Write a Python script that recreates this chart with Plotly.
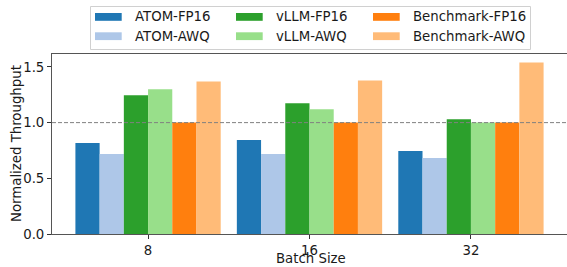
import plotly.graph_objects as go

batch_sizes = ["8", "16", "32"]
series_names = ["ATOM-FP16", "ATOM-AWQ", "vLLM-FP16", "vLLM-AWQ", "Benchmark-FP16", "Benchmark-AWQ"]
atom_fp16 = [0.817, 0.844, 0.745]
atom_awq = [0.719, 0.719, 0.683]
vllm_fp16 = [1.246, 1.174, 1.031]
vllm_awq = [1.299, 1.120, 1.000]
bench_fp16 = [1.0, 1.0, 1.0]
bench_awq = [1.370, 1.379, 1.540]
series_values = [atom_fp16, atom_awq, vllm_fp16, vllm_awq, bench_fp16, bench_awq]
colors = ["#1f77b4", "#aec7e8", "#2ca02c", "#98df8a", "#ff7f0e", "#ffbb78"]
baseline_value = 1.0
x_title = "Batch Size"
y_title = "Normalized Throughput"

FONT = "DejaVu Sans"
FS = 13.3
TXT = "#1a1a1a"
W, H = 567, 267
ML, MR, MT, MB = 52, 0, 54, 33
PW, PH = W - ML - MR, H - MT - MB


def px(xp):
    return (xp - ML) / PW


def py(yp):
    return (H - MB - yp) / PH


fig = go.Figure()
x_idx = list(range(len(batch_sizes)))
for name, vals, c in zip(series_names, series_values, colors):
    fig.add_trace(go.Bar(x=x_idx, y=vals, name=name, showlegend=False,
                         marker=dict(color=c, line=dict(width=0))))

shapes = []
annotations = []
# dashed reference line
shapes.append(dict(type="line", xref="paper", yref="y", x0=0, x1=1, y0=baseline_value, y1=baseline_value,
                   line=dict(color="#808080", width=1, dash="4px,2px"), layer="above"))

# legend (drawn manually: 3 columns x 2 rows)
bx0, bx1, by0, by1 = 90.5, 530.5, 6.5, 49.5
shapes.append(dict(type="rect", xref="paper", yref="paper",
                   x0=px(bx0), x1=px(bx1), y0=py(by1), y1=py(by0),
                   line=dict(color="#d0d0d0", width=1), fillcolor="white", layer="below"))
col_x = [95, 236, 373]
row_y = [16.9, 36.2]
for i, (name, c) in enumerate(zip(series_names, colors)):
    col, row = i // 2, i % 2
    sx, sy = col_x[col], row_y[row]
    shapes.append(dict(type="rect", xref="paper", yref="paper",
                       x0=px(sx), x1=px(sx + 26.7), y0=py(sy + 3.9), y1=py(sy - 3.9),
                       fillcolor=c, line=dict(width=0), layer="above"))
    annotations.append(dict(x=px(sx + 38), y=py(sy), xref="paper", yref="paper", text=name,
                            showarrow=False, xanchor="left", yanchor="middle",
                            font=dict(family=FONT, size=FS, color=TXT)))

# axis titles
annotations.append(dict(x=px(311), y=py(H), xref="paper", yref="paper", text=x_title,
                        showarrow=False, xanchor="center", yanchor="bottom", borderpad=0,
                        font=dict(family=FONT, size=FS, color=TXT)))
annotations.append(dict(x=px(16), y=py(144), xref="paper", yref="paper", text=y_title,
                        showarrow=False, xanchor="center", yanchor="middle", textangle=-90,
                        font=dict(family=FONT, size=FS, color=TXT)))

fig.update_layout(
    width=W, height=H,
    margin=dict(l=ML, r=MR, t=MT, b=MB, autoexpand=False),
    paper_bgcolor="white", plot_bgcolor="white",
    font=dict(family=FONT, size=FS, color=TXT),
    barmode="group", bargap=0.1, bargroupgap=0,
    showlegend=False,
    shapes=shapes, annotations=annotations,
    xaxis=dict(range=[-0.595, 2.595], tickmode="array", tickvals=x_idx, ticktext=batch_sizes,
               showline=True, linecolor="#555555", linewidth=1, mirror=True,
               ticks="outside", ticklen=4, tickcolor="#333", showgrid=False, zeroline=False,
               automargin=False, tickfont=dict(size=FS)),
    yaxis=dict(range=[0, 1.616], tickvals=[0, 0.5, 1.0, 1.5], ticktext=["0.0", "0.5", "1.0", "1.5"],
               showline=True, linecolor="#555555", linewidth=1,
               ticks="outside", ticklen=4, tickcolor="#333", showgrid=False, zeroline=False,
               automargin=False, tickfont=dict(size=FS)),
)
fig.write_html("out.html", config={"displayModeBar": False},
               post_script="document.body.style.margin='0';document.body.style.overflow='hidden';")
